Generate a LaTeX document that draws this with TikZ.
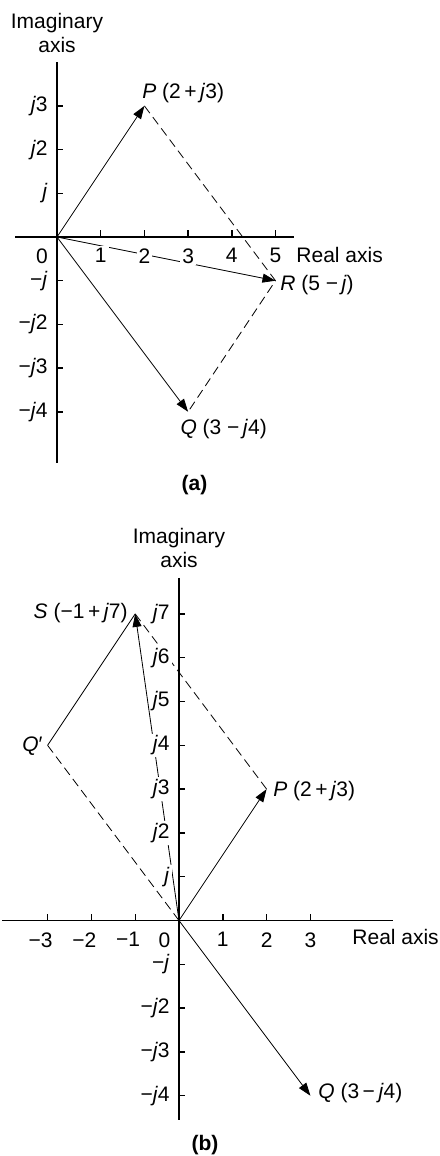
\documentclass[tikz,border=0pt]{standalone}
\usepackage{fontspec}
\setmainfont{Liberation Sans}
\usetikzlibrary{arrows.meta}
\begin{document}
\begin{tikzpicture}[
  x=0.5pt, y=-0.5pt,
  lbl/.style={font=\fontsize{10.5}{12}\selectfont, inner sep=0pt},
  tlbl/.style={font=\fontsize{10.5}{12}\selectfont, fill=white, inner sep=1pt},
  axisline/.style={line width=0.7pt},
  tickmark/.style={line width=0.7pt},
  vec/.style={line width=0.4pt, -{Triangle[length=6.5pt,width=4.5pt]}},
  side/.style={line width=0.4pt},
  dsh/.style={line width=0.4pt, dash pattern=on 4.5pt off 2.5pt},
]
\useasboundingbox (0,0) rectangle (439,1156);

% ---------------- (a) ----------------
\begin{scope}[shift={(28.5pt,-118.5pt)}, x=21.85pt, y=21.85pt]
  \draw[axisline] (0,4.0) -- (0,-5.17);
  \draw[axisline] (-0.96,0) -- (5.43,0);
  \foreach \k in {1,2,3,-1,-2,-3,-4} \draw[tickmark] (0,\k) -- ++(3pt,0);
  \foreach \k in {1,...,5} \draw[tickmark] (\k,0) -- ++(0,3.5pt);
  \coordinate (aO) at (0,0);
  \coordinate (aP) at (2,3);
  \coordinate (aR) at (5,-1);
  \coordinate (aQ) at (3,-4);
  \draw[vec] (aO) -- (aP);
  \draw[vec] (aO) -- (aR);
  \draw[vec] (aO) -- (aQ);
  \draw[dsh] (aP) -- (aR) -- (aQ);
  % axis labels
  \node[tlbl, anchor=east] (ay3) at ([xshift=-3.5pt]0,3) {\textit{j}3};
  \node[tlbl, anchor=east] (ay2) at ([xshift=-3.5pt]0,2) {\textit{j}2};
  \node[tlbl, anchor=east] (ay1) at ([xshift=-3.5pt]0,1) {\textit{j}};
  \node[tlbl, anchor=east] (aym1) at ([xshift=-3.5pt]0,-1) {−\textit{j}};
  \node[tlbl, anchor=east] (aym2) at ([xshift=-3.5pt]0,-2) {−\textit{j}2};
  \node[tlbl, anchor=east] (aym3) at ([xshift=-3.5pt]0,-3) {−\textit{j}3};
  \node[tlbl, anchor=east] (aym4) at ([xshift=-3.5pt]0,-4) {−\textit{j}4};
  \node[tlbl, anchor=north] (ax0) at ([xshift=-7.5pt,yshift=-4.5pt]0,0) {0};
  \node[tlbl, anchor=north] (ax1) at ([yshift=-4.5pt]1,0) {1};
  \node[tlbl, anchor=north] (ax2) at ([yshift=-4.5pt]2,0) {2};
  \node[tlbl, anchor=north] (ax3) at ([yshift=-4.5pt]3,0) {3};
  \node[tlbl, anchor=north] (ax4) at ([yshift=-4.5pt]4,0) {4};
  \node[tlbl, anchor=north] (ax5) at ([yshift=-4.5pt]5,0) {5};
  \node[lbl, anchor=base west] (areal) at ([yshift=-12.5pt]5.47,0) {Real axis};
  \node[lbl, align=center, anchor=north] (aimag) at (0,5.126) {Imaginary\\axis};
  % point labels
  \node[lbl, anchor=base west] (aPl) at ([xshift=-1.2pt,yshift=3.5pt]aP) {\textit{P} (2\,+\,\textit{j}3)};
  \node[lbl, anchor=base west] (aRl) at ([xshift=2.2pt,yshift=-4.65pt]aR) {\textit{R} (5 −\,\textit{j})};
  \node[lbl, anchor=base west] (aQl) at ([xshift=-4pt,yshift=-11.5pt]aQ) {\textit{Q} (3 −\,\textit{j}4)};
  \node[lbl, anchor=base] (acap) at (3.146,-5.79) {\textbf{(a)}};
\end{scope}

% ---------------- (b) ----------------
\begin{scope}[shift={(89.5pt,-460.25pt)}, x=21.9pt, y=21.9pt]
  \draw[axisline] (0,7.82) -- (0,-4.55);
  \draw[axisline] (-4.04,0) -- (4.89,0);
  \foreach \k in {1,...,7,-1,-2,-3,-4} \draw[tickmark] (0,\k) -- ++(3pt,0);
  \foreach \k in {-3,-2,-1,1,2,3} \draw[tickmark] (\k,0) -- ++(0,3.5pt);
  \coordinate (bO) at (0,0);
  \coordinate (bP) at (2,3);
  \coordinate (bQ) at (3,-4);
  \coordinate (bS) at (-1,7);
  \coordinate (bQp) at (-3,4);
  \draw[vec] (bO) -- (bP);
  \draw[vec] (bO) -- (bQ);
  \draw[vec] (bO) -- (bS);
  \draw[side] (bQp) -- (bS);
  \draw[dsh] (bS) -- (bP);
  \draw[dsh] (bQp) -- (bO);
  % axis labels
  \node[tlbl, anchor=east] (by7) at ([xshift=-3.5pt]0,7) {\textit{j}7};
  \node[tlbl, anchor=east] (by6) at ([xshift=-3.5pt]0,6) {\textit{j}6};
  \node[tlbl, anchor=east] (by5) at ([xshift=-3.5pt]0,5) {\textit{j}5};
  \node[tlbl, anchor=east] (by4) at ([xshift=-3.5pt]0,4) {\textit{j}4};
  \node[tlbl, anchor=east] (by3) at ([xshift=-3.5pt]0,3) {\textit{j}3};
  \node[tlbl, anchor=east] (by2) at ([xshift=-3.5pt]0,2) {\textit{j}2};
  \node[tlbl, anchor=east] (by1) at ([xshift=-3.5pt]0,1) {\textit{j}};
  \node[tlbl, anchor=east] (bym1) at ([xshift=-3.5pt]0,-1) {−\textit{j}};
  \node[tlbl, anchor=east] (bym2) at ([xshift=-3.5pt]0,-2) {−\textit{j}2};
  \node[tlbl, anchor=east] (bym3) at ([xshift=-3.5pt]0,-3) {−\textit{j}3};
  \node[tlbl, anchor=east] (bym4) at ([xshift=-3.5pt]0,-4) {−\textit{j}4};
  \node[tlbl, anchor=north] (bxm3) at ([xshift=-3.5pt,yshift=-4.75pt]-3,0) {−3};
  \node[tlbl, anchor=north] (bxm2) at ([xshift=-3.5pt,yshift=-4.75pt]-2,0) {−2};
  \node[tlbl, anchor=north] (bxm1) at ([xshift=-3.5pt,yshift=-4.75pt]-1,0) {−1};
  \node[tlbl, anchor=north] (bx0) at ([xshift=-7.3pt,yshift=-4.75pt]0,0) {0};
  \node[tlbl, anchor=north] (bx1) at ([yshift=-4.75pt]1,0) {1};
  \node[tlbl, anchor=north] (bx2) at ([yshift=-4.75pt]2,0) {2};
  \node[tlbl, anchor=north] (bx3) at ([yshift=-4.75pt]3,0) {3};
  \node[lbl, anchor=base west] (breal) at ([yshift=-11.75pt]3.95,0) {Real axis};
  \node[lbl, align=center, anchor=north] (bimag) at (0,8.96) {Imaginary\\axis};
  % point labels
  \node[lbl, anchor=base west] (bPl) at ([xshift=3.2pt,yshift=-3.5pt]bP) {\textit{P} (2\,+\,\textit{j}3)};
  \node[lbl, anchor=base west] (bQl) at ([xshift=3.8pt,yshift=-1.2pt]bQ) {\textit{Q} (3\,−\,\textit{j}4)};
  \node[lbl, anchor=base east] (bSl) at ([xshift=-3.6pt,yshift=-2.5pt]bS) {\textit{S} (−1\,+\,\textit{j}7)};
  \node[lbl, anchor=base east] (bQpl) at ([xshift=-2.3pt,yshift=-3pt]bQp) {\textit{Q}′};
  \node[lbl, anchor=base] (bcap) at (0.594,-5.26) {\textbf{(b)}};
\end{scope}
\end{tikzpicture}
\end{document}
